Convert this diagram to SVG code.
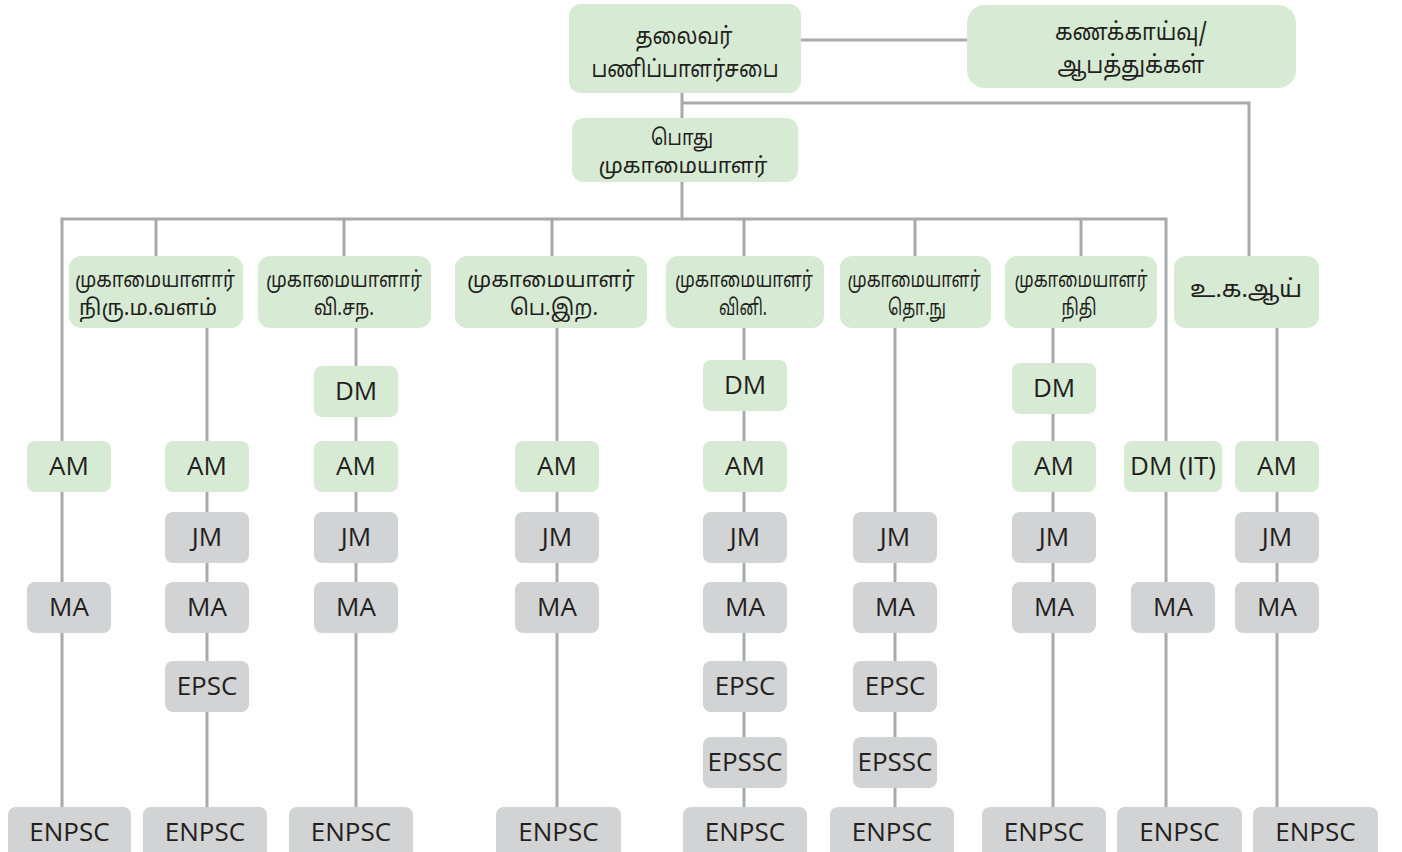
<svg xmlns="http://www.w3.org/2000/svg" width="1402" height="852" viewBox="0 0 1402 852">
<style>
.ln{stroke:#a7a9ac;stroke-width:3;fill:none}
.g{fill:#d7ebd4}
.s{fill:#d1d3d4}
.en{font-family:"Open Sans","Noto Sans",sans-serif;font-size:26px;fill:#231f20;text-anchor:middle}
.ta{font-family:"Noto Sans Tamil","Lohit Tamil","Noto Sans",sans-serif;font-size:22px;fill:#231f20;text-anchor:middle}
.tb{font-family:"Noto Sans Tamil","Lohit Tamil","Noto Sans",sans-serif;font-size:24px;fill:#231f20;text-anchor:middle}
</style>
<rect width="1402" height="852" fill="#ffffff"/>
<g id="connectors">
<line class="ln" x1="801" y1="40" x2="967" y2="40"/>
<line class="ln" x1="682" y1="93" x2="682" y2="118"/>
<path class="ln" d="M682,103 H1249 V256"/>
<line class="ln" x1="682" y1="182" x2="682" y2="219"/>
<path class="ln" d="M62,807 V219 H1166 V807"/>
<line class="ln" x1="156" y1="219" x2="156" y2="256"/>
<line class="ln" x1="344" y1="219" x2="344" y2="256"/>
<line class="ln" x1="552" y1="219" x2="552" y2="256"/>
<line class="ln" x1="744" y1="219" x2="744" y2="256"/>
<line class="ln" x1="915" y1="219" x2="915" y2="256"/>
<line class="ln" x1="1081" y1="219" x2="1081" y2="256"/>
<line class="ln" x1="207" y1="328" x2="207" y2="807"/>
<line class="ln" x1="356" y1="328" x2="356" y2="807"/>
<line class="ln" x1="557" y1="328" x2="557" y2="807"/>
<line class="ln" x1="744" y1="328" x2="744" y2="807"/>
<line class="ln" x1="895" y1="328" x2="895" y2="807"/>
<line class="ln" x1="1053" y1="328" x2="1053" y2="807"/>
<line class="ln" x1="1277" y1="328" x2="1277" y2="807"/>
</g>
<g id="board"><rect class="g" x="569" y="4" width="232" height="89" rx="12"/><text class="tb" x="684" y="44" textLength="97" lengthAdjust="spacingAndGlyphs">தலைவர்</text><text class="tb" x="685" y="77" textLength="187" lengthAdjust="spacingAndGlyphs">பணிப்பாளர்சபை</text></g>
<g id="audit"><rect class="g" x="967" y="5" width="329" height="83" rx="18"/><text class="tb" x="1131" y="40" textLength="152" lengthAdjust="spacingAndGlyphs">கணக்காய்வு/</text><text class="tb" x="1131" y="73" textLength="147" lengthAdjust="spacingAndGlyphs">ஆபத்துக்கள்</text></g>
<g id="gm"><rect class="g" x="572" y="118" width="226" height="64" rx="12"/><text class="ta" x="682" y="145" textLength="62" lengthAdjust="spacingAndGlyphs">பொது</text><text class="ta" x="683" y="173" textLength="169" lengthAdjust="spacingAndGlyphs">முகாமையாளர்</text></g>
<g id="m1"><rect class="g" x="69" y="256" width="174" height="72" rx="12"/><text class="ta" x="155" y="287" textLength="160" lengthAdjust="spacingAndGlyphs">முகாமையாளார்</text><text class="ta" x="148" y="315" textLength="138" lengthAdjust="spacingAndGlyphs">நிரு.ம.வளம்</text></g>
<g id="m2"><rect class="g" x="258" y="256" width="173" height="72" rx="12"/><text class="ta" x="344" y="287" textLength="156" lengthAdjust="spacingAndGlyphs">முகாமையாளார்</text><text class="ta" x="344" y="315" textLength="60" lengthAdjust="spacingAndGlyphs">வி.சந.</text></g>
<g id="m3"><rect class="g" x="455" y="256" width="192" height="72" rx="12"/><text class="ta" x="551" y="287" textLength="168" lengthAdjust="spacingAndGlyphs">முகாமையாளர்</text><text class="ta" x="554" y="315" textLength="88" lengthAdjust="spacingAndGlyphs">பெ.இற.</text></g>
<g id="m4"><rect class="g" x="666" y="256" width="158" height="72" rx="12"/><text class="ta" x="744" y="287" textLength="138" lengthAdjust="spacingAndGlyphs">முகாமையாளர்</text><text class="ta" x="743" y="315" textLength="48" lengthAdjust="spacingAndGlyphs">வினி.</text></g>
<g id="m5"><rect class="g" x="840" y="256" width="151" height="72" rx="12"/><text class="ta" x="914" y="287" textLength="133" lengthAdjust="spacingAndGlyphs">முகாமையாளர்</text><text class="ta" x="917" y="315" textLength="58" lengthAdjust="spacingAndGlyphs">தொ.நு</text></g>
<g id="m6"><rect class="g" x="1005" y="256" width="152" height="72" rx="12"/><text class="ta" x="1081" y="287" textLength="133" lengthAdjust="spacingAndGlyphs">முகாமையாளர்</text><text class="ta" x="1079" y="315" textLength="35" lengthAdjust="spacingAndGlyphs">நிதி</text></g>
<g id="m7"><rect class="g" x="1174" y="256" width="145" height="72" rx="12"/><text class="tb" x="1246" y="297" textLength="112" lengthAdjust="spacingAndGlyphs">உ.க.ஆய்</text></g>
<g id="a-am"><rect class="g" x="27" y="441" width="84" height="51" rx="8"/><text class="en" x="69" y="474.5">AM</text></g>
<g id="a-ma"><rect class="s" x="27" y="582" width="84" height="51" rx="8"/><text class="en" x="69" y="615.5">MA</text></g>
<g id="a-en"><rect class="s" x="8" y="807" width="123" height="52" rx="8"/><text class="en" x="69.5" y="840.5">ENPSC</text></g>
<g id="b-am"><rect class="g" x="165" y="441" width="84" height="51" rx="8"/><text class="en" x="207" y="474.5">AM</text></g>
<g id="b-jm"><rect class="s" x="165" y="512" width="84" height="51" rx="8"/><text class="en" x="207" y="545.5">JM</text></g>
<g id="b-ma"><rect class="s" x="165" y="582" width="84" height="51" rx="8"/><text class="en" x="207" y="615.5">MA</text></g>
<g id="b-epsc"><rect class="s" x="165" y="661" width="84" height="51" rx="8"/><text class="en" x="207" y="694.5">EPSC</text></g>
<g id="b-en"><rect class="s" x="143" y="807" width="124" height="52" rx="8"/><text class="en" x="205" y="840.5">ENPSC</text></g>
<g id="c-dm"><rect class="g" x="314" y="366" width="84" height="51" rx="8"/><text class="en" x="356" y="399.5">DM</text></g>
<g id="c-am"><rect class="g" x="314" y="441" width="84" height="51" rx="8"/><text class="en" x="356" y="474.5">AM</text></g>
<g id="c-jm"><rect class="s" x="314" y="512" width="84" height="51" rx="8"/><text class="en" x="356" y="545.5">JM</text></g>
<g id="c-ma"><rect class="s" x="314" y="582" width="84" height="51" rx="8"/><text class="en" x="356" y="615.5">MA</text></g>
<g id="c-en"><rect class="s" x="289" y="807" width="124" height="52" rx="8"/><text class="en" x="351" y="840.5">ENPSC</text></g>
<g id="d-am"><rect class="g" x="515" y="441" width="84" height="51" rx="8"/><text class="en" x="557" y="474.5">AM</text></g>
<g id="d-jm"><rect class="s" x="515" y="512" width="84" height="51" rx="8"/><text class="en" x="557" y="545.5">JM</text></g>
<g id="d-ma"><rect class="s" x="515" y="582" width="84" height="51" rx="8"/><text class="en" x="557" y="615.5">MA</text></g>
<g id="d-en"><rect class="s" x="496" y="807" width="125" height="52" rx="8"/><text class="en" x="558.5" y="840.5">ENPSC</text></g>
<g id="e-dm"><rect class="g" x="703" y="360" width="84" height="51" rx="8"/><text class="en" x="745" y="393.5">DM</text></g>
<g id="e-am"><rect class="g" x="703" y="441" width="84" height="51" rx="8"/><text class="en" x="745" y="474.5">AM</text></g>
<g id="e-jm"><rect class="s" x="703" y="512" width="84" height="51" rx="8"/><text class="en" x="745" y="545.5">JM</text></g>
<g id="e-ma"><rect class="s" x="703" y="582" width="84" height="51" rx="8"/><text class="en" x="745" y="615.5">MA</text></g>
<g id="e-epsc"><rect class="s" x="703" y="661" width="84" height="51" rx="8"/><text class="en" x="745" y="694.5">EPSC</text></g>
<g id="e-epssc"><rect class="s" x="703" y="737" width="84" height="51" rx="8"/><text class="en" x="745" y="770.5">EPSSC</text></g>
<g id="e-en"><rect class="s" x="683" y="807" width="124" height="52" rx="8"/><text class="en" x="745" y="840.5">ENPSC</text></g>
<g id="f-jm"><rect class="s" x="853" y="512" width="84" height="51" rx="8"/><text class="en" x="895" y="545.5">JM</text></g>
<g id="f-ma"><rect class="s" x="853" y="582" width="84" height="51" rx="8"/><text class="en" x="895" y="615.5">MA</text></g>
<g id="f-epsc"><rect class="s" x="853" y="661" width="84" height="51" rx="8"/><text class="en" x="895" y="694.5">EPSC</text></g>
<g id="f-epssc"><rect class="s" x="853" y="737" width="84" height="51" rx="8"/><text class="en" x="895" y="770.5">EPSSC</text></g>
<g id="f-en"><rect class="s" x="830" y="807" width="124" height="52" rx="8"/><text class="en" x="892" y="840.5">ENPSC</text></g>
<g id="g-dm"><rect class="g" x="1012" y="363" width="84" height="51" rx="8"/><text class="en" x="1054" y="396.5">DM</text></g>
<g id="g-am"><rect class="g" x="1012" y="441" width="84" height="51" rx="8"/><text class="en" x="1054" y="474.5">AM</text></g>
<g id="g-jm"><rect class="s" x="1012" y="512" width="84" height="51" rx="8"/><text class="en" x="1054" y="545.5">JM</text></g>
<g id="g-ma"><rect class="s" x="1012" y="582" width="84" height="51" rx="8"/><text class="en" x="1054" y="615.5">MA</text></g>
<g id="g-en"><rect class="s" x="982" y="807" width="124" height="52" rx="8"/><text class="en" x="1044" y="840.5">ENPSC</text></g>
<g id="h-dmit"><rect class="g" x="1124" y="441" width="98" height="51" rx="8"/><text class="en" x="1173" y="474.5">DM (IT)</text></g>
<g id="h-ma"><rect class="s" x="1131" y="582" width="84" height="51" rx="8"/><text class="en" x="1173" y="615.5">MA</text></g>
<g id="h-en"><rect class="s" x="1117" y="807" width="125" height="52" rx="8"/><text class="en" x="1179.5" y="840.5">ENPSC</text></g>
<g id="i-am"><rect class="g" x="1235" y="441" width="84" height="51" rx="8"/><text class="en" x="1277" y="474.5">AM</text></g>
<g id="i-jm"><rect class="s" x="1235" y="512" width="84" height="51" rx="8"/><text class="en" x="1277" y="545.5">JM</text></g>
<g id="i-ma"><rect class="s" x="1235" y="582" width="84" height="51" rx="8"/><text class="en" x="1277" y="615.5">MA</text></g>
<g id="i-en"><rect class="s" x="1253" y="807" width="125" height="52" rx="8"/><text class="en" x="1315.5" y="840.5">ENPSC</text></g>
</svg>
